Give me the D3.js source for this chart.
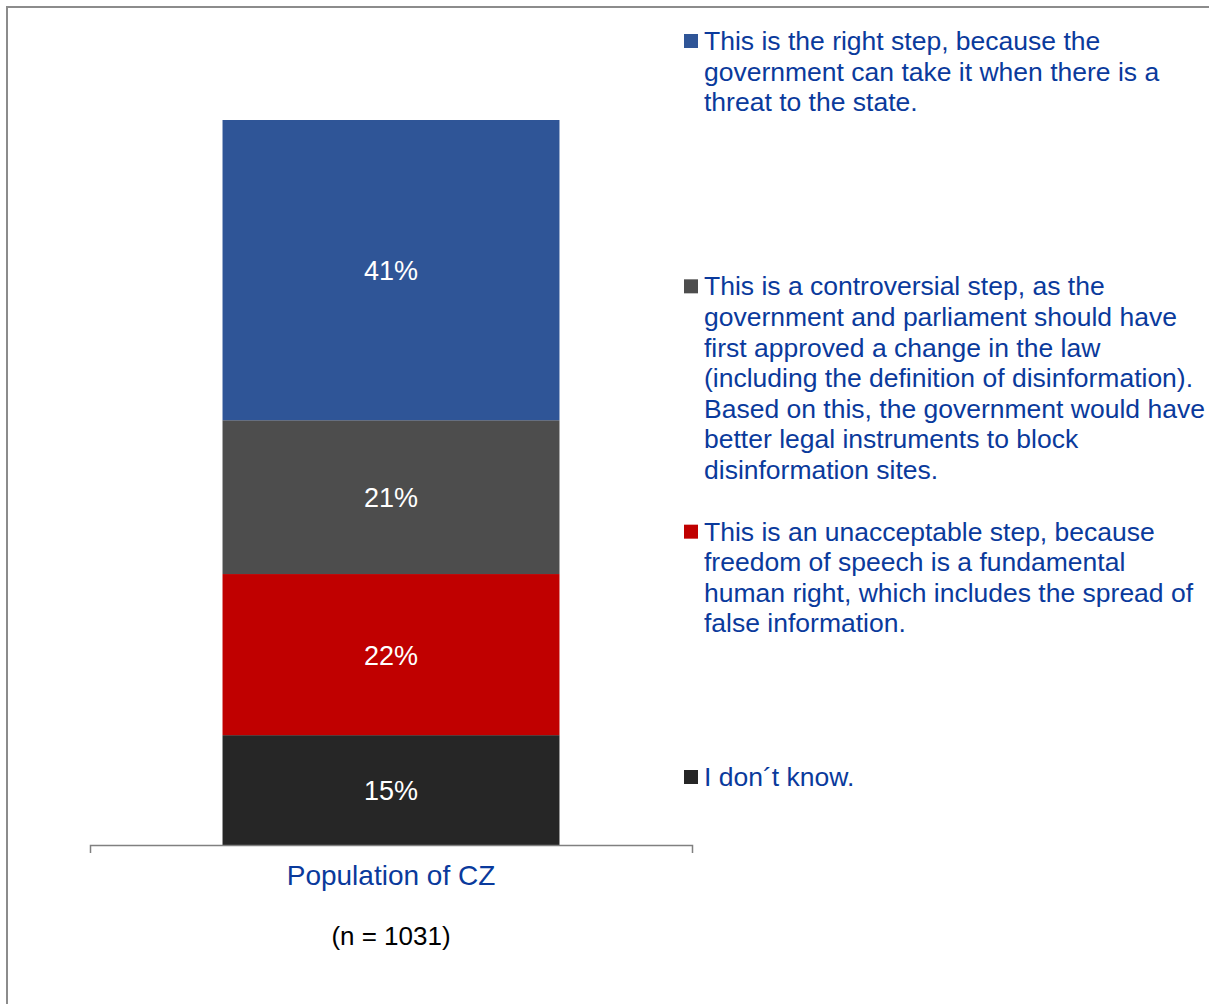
<!DOCTYPE html>
<html>
<head>
<meta charset="utf-8">
<script src="https://cdn.jsdelivr.net/npm/d3@7"></script>
<style>
  body { margin: 0; background: #fff; }
  text { font-family: 'Liberation Sans', Arial, sans-serif; }
</style>
</head>
<body>
<div id="chart"></div>
<script>
var categories = ['Population of CZ']
var sample_note = '(n = 1031)'
var series_names = [
  'This is the right step, because the government can take it when there is a threat to the state.',
  'This is a controversial step, as the government and parliament should have first approved a change in the law (including the definition of disinformation). Based on this, the government would have better legal instruments to block disinformation sites.',
  'This is an unacceptable step, because freedom of speech is a fundamental human right, which includes the spread of false information.',
  'I don´t know.'
]
var legend_lines = [
  ['This is the right step, because the', 'government can take it when there is a', 'threat to the state.'],
  ['This is a controversial step, as the', 'government and parliament should have', 'first approved a change in the law', '(including the definition of disinformation).', 'Based on this, the government would have', 'better legal instruments to block', 'disinformation sites.'],
  ['This is an unacceptable step, because', 'freedom of speech is a fundamental', 'human right, which includes the spread of', 'false information.'],
  ['I don´t know.']
]
var series_values = [41, 21, 22, 15]
var series_colors = ['#2F5597', '#4D4D4D', '#C00000', '#262626']

var width = 1209
var height = 1004
var TEXT_BLUE = '#0A3A9C'

var svg = d3.select('#chart')
  .append('svg')
  .attr('width', width)
  .attr('height', height)

// frame
svg.append('rect')
  .attr('x', 7)
  .attr('y', 7)
  .attr('width', width)
  .attr('height', height)
  .attr('fill', 'none')
  .attr('stroke', '#8C8C8C')
  .attr('stroke-width', 2)

// stack: last series sits at the bottom
var total = d3.sum(series_values)
var stack = []
var acc = 0
for (var i = series_values.length - 1; i >= 0; i--) {
  stack.push({ v: series_values[i], y0: acc, y1: acc + series_values[i], color: series_colors[i] })
  acc += series_values[i]
}

var x = d3.scaleBand()
  .domain(categories)
  .range([90, 692])
  .paddingInner(0)
  .paddingOuter(0.22)

var y = d3.scaleLinear()
  .domain([0, total])
  .range([845, 120])

var barW = x.bandwidth() * 0.806
var cx = x(categories[0]) + x.bandwidth() / 2

svg.selectAll('.seg')
  .data(stack)
  .enter()
  .append('rect')
  .attr('class', 'seg')
  .attr('x', cx - barW / 2)
  .attr('y', d => y(d.y1))
  .attr('width', barW)
  .attr('height', d => y(d.y0) - y(d.y1))
  .attr('fill', d => d.color)

svg.selectAll('.seg-label')
  .data(stack)
  .enter()
  .append('text')
  .attr('class', 'seg-label')
  .attr('x', cx)
  .attr('y', d => (y(d.y0) + y(d.y1)) / 2 + 10)
  .attr('text-anchor', 'middle')
  .attr('font-size', '27px')
  .attr('fill', '#fff')
  .text(d => d.v + '%')

// category axis
var axis = svg.append('g')
  .attr('transform', 'translate(0,' + 845 + ')')
  .call(d3.axisBottom(x).tickSize(0).tickPadding(20).tickSizeOuter(8))
axis.select('.domain').attr('stroke', '#808080').attr('stroke-width', 1.5)
axis.selectAll('.tick text')
  .attr('font-size', '28px')
  .attr('font-family', "'Liberation Sans', Arial, sans-serif")
  .attr('fill', TEXT_BLUE)

svg.append('text')
  .attr('x', cx)
  .attr('y', 945)
  .attr('text-anchor', 'middle')
  .attr('font-size', '26px')
  .attr('fill', '#000')
  .text(sample_note)

// legend
var ly = d3.scalePoint()
  .domain(d3.range(series_names.length))
  .range([41, 777])

var legend = svg.selectAll('.legend')
  .data(series_names)
  .enter()
  .append('g')
  .attr('class', 'legend')
  .attr('transform', (d, i) => 'translate(684,' + ly(i) + ')')

legend.append('rect')
  .attr('x', 0)
  .attr('y', -7)
  .attr('width', 14)
  .attr('height', 14)
  .attr('fill', (d, i) => series_colors[i])

legend.append('text')
  .attr('font-size', '26.5px')
  .attr('fill', TEXT_BLUE)
  .selectAll('tspan')
  .data((d, i) => legend_lines[i])
  .enter()
  .append('tspan')
  .attr('x', 20)
  .attr('y', (d, j) => 9 + j * 30.6)
  .text(d => d)
</script>
</body>
</html>
